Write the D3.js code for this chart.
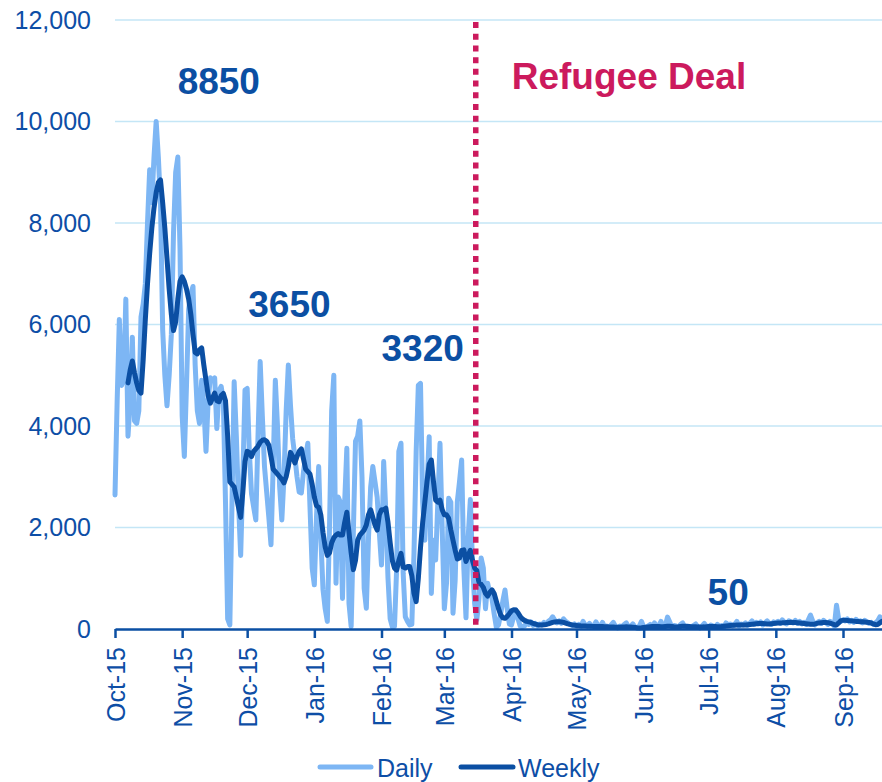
<!DOCTYPE html>
<html>
<head>
<meta charset="utf-8">
<script src="https://cdn.jsdelivr.net/npm/d3@7"></script>
<style>
  html, body { margin: 0; padding: 0; background: #ffffff; }
  svg { display: block; font-family: "Liberation Sans", Arial, sans-serif; }
</style>
</head>
<body>
<svg id="chart" width="882" height="782"></svg>
<script>
// ---------------- DATA ----------------
const dailyStart = "2015-10-01";
const weeklyStart = "2015-10-07";
const endDate = "2016-09-19";
const dealDate = "2016-03-15T12:00:00Z";

const dailyValues = [
  2640, 4500, 6100, 4800, 4900, 6500, 3800, 4500, 5750, 4100,
  4050, 4300, 6150, 6400, 6800, 8000, 9050, 8400, 9300, 10000,
  9300, 8400, 5900, 5000, 4400, 5000, 5800, 7800, 9000, 9300,
  7500, 4200, 3400, 4800, 6300, 6600, 6750, 5200, 4300, 4050,
  4900, 4400, 3500, 4500, 4950, 4900, 4950, 3950,
  4700, 4780, 4500, 2500, 200, 80, 2500, 4870, 3800, 2500,
  1450, 3000, 4710, 4740, 3500, 2670, 2400, 2150, 3800, 5270,
  4200, 3200, 2700, 2200, 1660, 3200, 4900, 4000, 2800, 2150,
  3000, 4300, 5200, 4400, 3750, 3400, 3000, 2700, 2680, 3100,
  3400, 3660, 2400, 1200, 870, 2200, 3200, 1800, 780, 400,
  150, 2000, 4300, 5000, 900, 2600, 2500, 600, 2500, 3560,
  500, 50, 1900, 3700, 3800, 4100, 3000, 800, 410, 1800,
  2800, 3200, 2900, 2600, 1900, 1260, 3300, 2300, 1000, 200,
  40, 50, 1200, 3500, 3660, 1100, 240, 150, 80, 90,
  1500, 3500, 4800, 4840, 2500, 1750, 2800, 3790, 700, 1750,
  1360, 2500, 3660, 2000, 400, 900, 2575, 2500, 310, 960,
  2510, 2900, 3330, 1200, 220, 1800, 2550, 1300, 500, 180,
  600, 1400, 1200, 400, 900, 700, 600, 300, 30, 80,
  300, 550, 770, 400, 100, 80, 250, 375, 200, 60,
  45,
  60, 120, 90, 140, 70, 110, 60, 100, 80, 130, 90,
  150, 180, 240, 170, 120, 160, 110, 200, 150, 120, 90,
  70, 100, 60, 90, 50, 150, 80, 60, 110, 40, 70, 140, 60, 50, 130,
  40, 60, 30, 80, 130, 50, 20, 60, 40, 90, 120, 30, 50, 100, 40, 20, 60, 150, 40, 30,
  60, 90, 50, 120, 40, 70, 150, 30, 60, 235, 140, 40, 70, 60, 30, 90, 120, 40, 60, 50,
  30, 70, 100, 40, 20, 60, 110, 50, 30, 80, 60, 40, 90, 50, 70, 40, 120, 80, 100, 60,
  90, 150, 60, 100, 80, 120, 70, 110, 160, 90, 130, 100, 140, 80, 120, 160, 110, 90, 140, 120,
  150, 110, 180, 130, 100, 160, 140, 120, 170, 110, 150, 100, 130, 90, 180, 275, 160, 80, 120, 150,
  110, 170, 130, 90, 150, 120, 60, 470, 200, 150,
  180, 160, 200, 140, 170, 130, 190, 150, 160, 120, 170, 140, 110, 130, 90, 120, 160, 240, 200
];

const weeklyValues = [
  4850, 5100, 5280, 5050, 4850, 4700, 4650, 5300, 6100, 6800,
  7400, 7900, 8300, 8600, 8800, 8850, 8400, 7900, 7300, 6700,
  6200, 5880, 6050, 6500, 6850, 6940, 6850, 6700, 6500, 6200,
  5800, 5450, 5420, 5500, 5540, 5200, 4900, 4600, 4450, 4550,
  4650, 4500,
  4480, 4600, 4640, 4500, 3800, 2900, 2850, 2800, 2600, 2400,
  2200, 2700, 3300, 3500, 3480, 3400, 3500, 3550, 3600, 3680,
  3720, 3730, 3700, 3620, 3400, 3150, 3100, 3050, 3000, 2950,
  2880, 3000, 3200, 3480, 3400, 3270, 3400, 3500, 3550, 3350,
  3150, 3100, 3050, 2850, 2600, 2430, 2400, 2250, 1900, 1620,
  1450, 1500, 1700, 1800, 1850, 1880, 1850, 1850, 2100, 2300,
  1900, 1500, 1170, 1350, 1750, 1850, 1900, 1950, 2050, 2250,
  2350, 2200, 2050, 1950, 2250, 2350, 2350, 2380, 2100, 1700,
  1350, 1200, 1160, 1350, 1490, 1220, 1200, 1230, 1230, 1050,
  700, 540, 1000, 1600, 2100, 2500, 2900, 3250, 3330, 2900,
  2540, 2500, 2540, 2350, 2250, 2250, 2180, 1950, 1750, 1550,
  1380, 1400, 1550, 1560, 1330, 1450, 1550, 1350, 1200, 1150,
  900, 880, 820, 700, 650, 720, 770, 700, 550, 400,
  280, 220, 210, 250, 300, 360, 380, 375, 320, 250,
  200, 170, 150, 140,
  130,
  110, 95, 85, 80, 80, 85, 90,
  100, 115, 130, 140, 145, 145, 140, 130, 115, 100, 90,
  80, 75, 70, 65, 62, 60, 58, 55, 55, 52, 50, 50, 50, 50, 48,
  45, 45, 40, 40, 38, 35, 35, 35, 38, 40, 42, 40, 38, 35, 30, 25, 22, 25, 30, 35,
  40, 45, 50, 50, 50, 48, 45, 45, 50, 55, 55, 50, 45, 42, 45, 50, 55, 55, 50, 48,
  45, 45, 45, 42, 40, 40, 42, 45, 48, 50, 50, 48, 45, 45, 48, 55, 60, 65, 70, 72,
  75, 78, 80, 80, 78, 80, 85, 90, 95, 100, 105, 110, 110, 108, 105, 100, 100, 105, 110, 115,
  118, 120, 122, 125, 128, 130, 132, 130, 128, 125, 120, 115, 110, 105, 100, 95, 95, 100, 110, 120,
  125, 128, 130, 125, 115, 100, 85, 80, 120, 165,
  170, 170, 168, 165, 160, 155, 150, 148, 145, 145, 140, 135, 130, 120, 100, 85, 90, 120, 150
];

const yTicks = [0, 2000, 4000, 6000, 8000, 10000, 12000];
const seriesNames = ["Daily", "Weekly"];

const annotations = [
  { text: "8850", date: "2015-10-29T22:00:00Z", value: 10540 },
  { text: "3650", date: "2015-12-01T12:00:00Z", value: 6150 },
  { text: "3320", date: "2016-02-01", value: 5280 },
  { text: "50", date: "2016-06-30T12:00:00Z", value: 470 }
];
const dealLabel = "Refugee Deal";

// ---------------- DRAW ----------------
const plot = { left: 115, right: 882, top: 20, bottom: 629 };
const COL_TEXT = "#0d4ea6";
const COL_DAILY = "#7db6f4";
const COL_WEEKLY = "#0b4fa3";
const COL_GRID = "#c4e6f6";
const COL_DEAL = "#cc1a5d";

const svg = d3.select("#chart");
const parse = s => new Date(s.length <= 10 ? s + "T00:00:00Z" : s);
const DAY = 86400000;

const x = d3.scaleUtc().domain([parse(dailyStart), parse(endDate)]).range([plot.left, plot.right]);
const y = d3.scaleLinear().domain([0, 12000]).range([plot.bottom, plot.top]);

const daily = dailyValues.map((v, i) => ({ date: new Date(parse(dailyStart).getTime() + i * DAY), value: v }));
const weekly = weeklyValues.map((v, i) => ({ date: new Date(parse(weeklyStart).getTime() + i * DAY), value: v }));

// gridlines
svg.append("g").selectAll("line").data(yTicks.filter(t => t > 0)).join("line")
  .attr("x1", plot.left).attr("x2", plot.right)
  .attr("y1", d => y(d)).attr("y2", d => y(d))
  .attr("stroke", COL_GRID).attr("stroke-width", 1.3);

// y axis labels
const yAxis = d3.axisLeft(y).tickValues(yTicks).tickFormat(d3.format(",")).tickSize(0).tickPadding(24);
const gy = svg.append("g").attr("transform", `translate(${plot.left},0)`).call(yAxis);
gy.select(".domain").remove();
gy.selectAll("text").attr("fill", COL_TEXT).style("font-size", "25px")
  .style("font-family", "'Liberation Sans', Arial, sans-serif");

// lines
const line = d3.line().x(d => x(d.date)).y(d => y(d.value));
svg.append("path").datum(daily).attr("d", line)
  .attr("fill", "none").attr("stroke", COL_DAILY).attr("stroke-width", 5)
  .attr("stroke-linejoin", "round").attr("stroke-linecap", "round");
svg.append("path").datum(weekly).attr("d", line)
  .attr("fill", "none").attr("stroke", COL_WEEKLY).attr("stroke-width", 5)
  .attr("stroke-linejoin", "round").attr("stroke-linecap", "round");

// x axis
const xAxis = d3.axisBottom(x).ticks(d3.utcMonth.every(1)).tickFormat(d3.utcFormat("%b-%y"))
  .tickSizeInner(9).tickSizeOuter(0).tickPadding(10);
const gx = svg.append("g").attr("transform", `translate(0,${plot.bottom})`).call(xAxis);
gx.select(".domain").attr("stroke", COL_WEEKLY).attr("stroke-width", 2.5);
gx.selectAll(".tick line").attr("stroke", COL_WEEKLY).attr("stroke-width", 2.5);
gx.selectAll("text")
  .attr("fill", COL_TEXT).style("font-size", "25px")
  .style("font-family", "'Liberation Sans', Arial, sans-serif")
  .attr("text-anchor", "end")
  .attr("transform", "rotate(-90)")
  .attr("x", -18).attr("y", 0).attr("dy", "0.36em");

// deal line
const xd = x(parse(dealDate));
svg.append("line")
  .attr("x1", xd).attr("x2", xd).attr("y1", y(11960)).attr("y2", plot.bottom)
  .attr("stroke", COL_DEAL).attr("stroke-width", 5.5).attr("stroke-dasharray", "6,5.7");
svg.append("text").text(dealLabel)
  .attr("x", xd + 36).attr("y", 89)
  .attr("fill", COL_DEAL).style("font-size", "37px").style("font-weight", "bold");

// annotations
svg.append("g").selectAll("text").data(annotations).join("text")
  .attr("x", d => x(parse(d.date))).attr("y", d => y(d.value))
  .text(d => d.text)
  .attr("fill", COL_WEEKLY).style("font-size", "37px").style("font-weight", "bold");

// legend
const legend = svg.append("g");
const legendItems = [
  { name: seriesNames[0], color: COL_DAILY, x1: 320, x2: 371, tx: 377 },
  { name: seriesNames[1], color: COL_WEEKLY, x1: 461, x2: 513, tx: 518 }
];
legendItems.forEach(it => {
  legend.append("line").attr("x1", it.x1).attr("x2", it.x2).attr("y1", 767).attr("y2", 767)
    .attr("stroke", it.color).attr("stroke-width", 5).attr("stroke-linecap", "round");
  legend.append("text").attr("x", it.tx).attr("y", 777).text(it.name)
    .attr("fill", COL_TEXT).style("font-size", "25px");
});
</script>
</body>
</html>
